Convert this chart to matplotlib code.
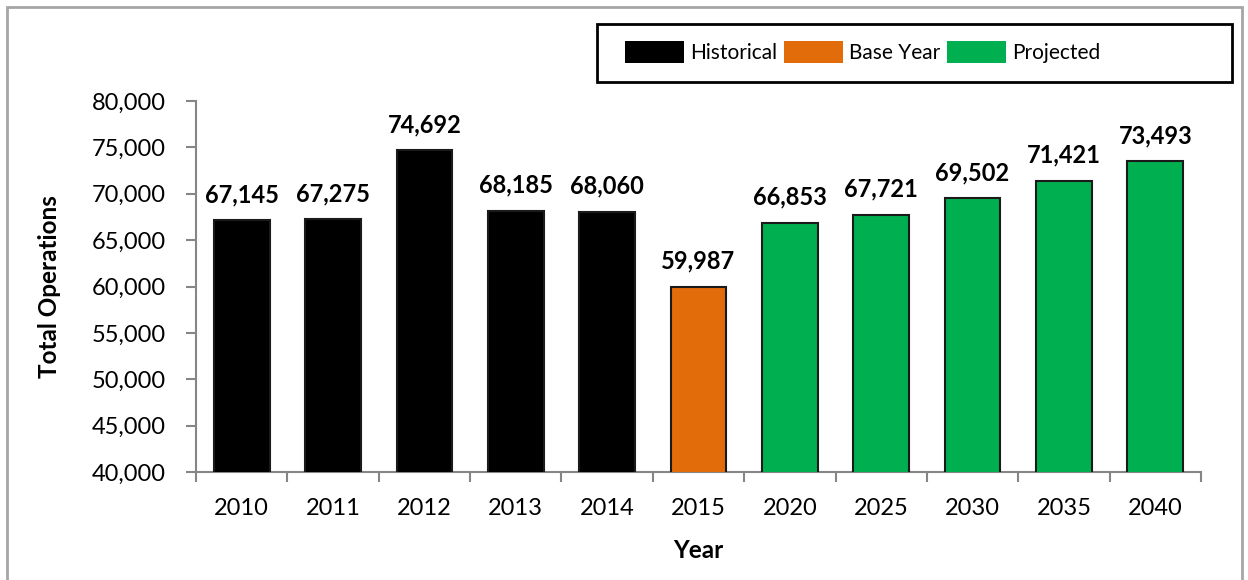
import matplotlib.pyplot as plt
from matplotlib.patches import Patch, Rectangle
from matplotlib.ticker import FuncFormatter, FixedLocator

years = ["2010", "2011", "2012", "2013", "2014", "2015", "2020", "2025", "2030", "2035", "2040"]
operations = [67145, 67275, 74692, 68185, 68060, 59987, 66853, 67721, 69502, 71421, 73493]
periods = ["Historical"] * 5 + ["Base Year"] + ["Projected"] * 5

colors = {"Historical": "#000000", "Base Year": "#E36C0A", "Projected": "#00B050"}
axis_gray = "#868686"
W, H = 1248, 580

plt.rcParams["font.family"] = ["Lato", "DejaVu Sans"]

fig = plt.figure(figsize=(W / 100, H / 100), dpi=100)
ax = fig.add_axes([196 / W, 1 - 472 / H, (1201 - 196) / W, (472 - 101) / H])

x = list(range(len(years)))
bar_colors = [colors[p] for p in periods]
ax.bar(x, operations, width=0.61, color=bar_colors, edgecolor="#1a1a1a", linewidth=1.5, zorder=3)

for xi, v in zip(x, operations):
    ax.annotate(f"{v:,}", (xi, v), xytext=(0, 13), textcoords="offset points",
                ha="center", va="baseline", fontsize=17, fontweight="bold")

ax.set_xlim(-0.5, len(years) - 0.5)
ax.set_ylim(40000, 80000)
ax.set_yticks(range(40000, 80001, 5000))
ax.yaxis.set_major_formatter(FuncFormatter(lambda v, _: f"{int(v):,}"))
ax.set_xticks(x)
ax.set_xticklabels(years)
ax.xaxis.set_minor_locator(FixedLocator([i - 0.5 for i in range(len(years) + 1)]))
ax.tick_params(axis="x", which="major", length=0, pad=19, labelsize=17)
ax.tick_params(axis="x", which="minor", length=7, width=1.5, color=axis_gray, direction="out")
ax.tick_params(axis="y", which="major", length=7, width=1.5, color=axis_gray, labelsize=17, pad=15)

for side in ["top", "right"]:
    ax.spines[side].set_visible(False)
for side in ["left", "bottom"]:
    ax.spines[side].set_color(axis_gray)
    ax.spines[side].set_linewidth(1.5)

ax.set_xlabel("Year", fontsize=17.5, fontweight="bold", labelpad=14)
ax.set_ylabel("Total Operations", fontsize=17.5, fontweight="bold", labelpad=22)

# chart area frame
fig.patches.append(Rectangle((7 / W, -0.1), (1242 - 7) / W, 1.1 - 7 / H,
                             transform=fig.transFigure, fill=False,
                             edgecolor="#a6a6a6", linewidth=2))

# legend box
fig.patches.append(Rectangle((597 / W, 1 - 82 / H), (1232 - 597) / W, (82 - 24) / H,
                             transform=fig.transFigure, fill=False,
                             edgecolor="black", linewidth=2))

handles = [Patch(facecolor=colors[k], edgecolor="none", label=k) for k in colors]
fig.legend(handles=handles, ncol=3, loc="center left",
           bbox_to_anchor=(625 / W, 1 - 52 / H),
           fontsize=15, frameon=False, borderpad=0, borderaxespad=0,
           handlelength=2.84, handleheight=1.25, handletextpad=0.3,
           columnspacing=0.3)

fig.savefig("out.png", dpi=100)
